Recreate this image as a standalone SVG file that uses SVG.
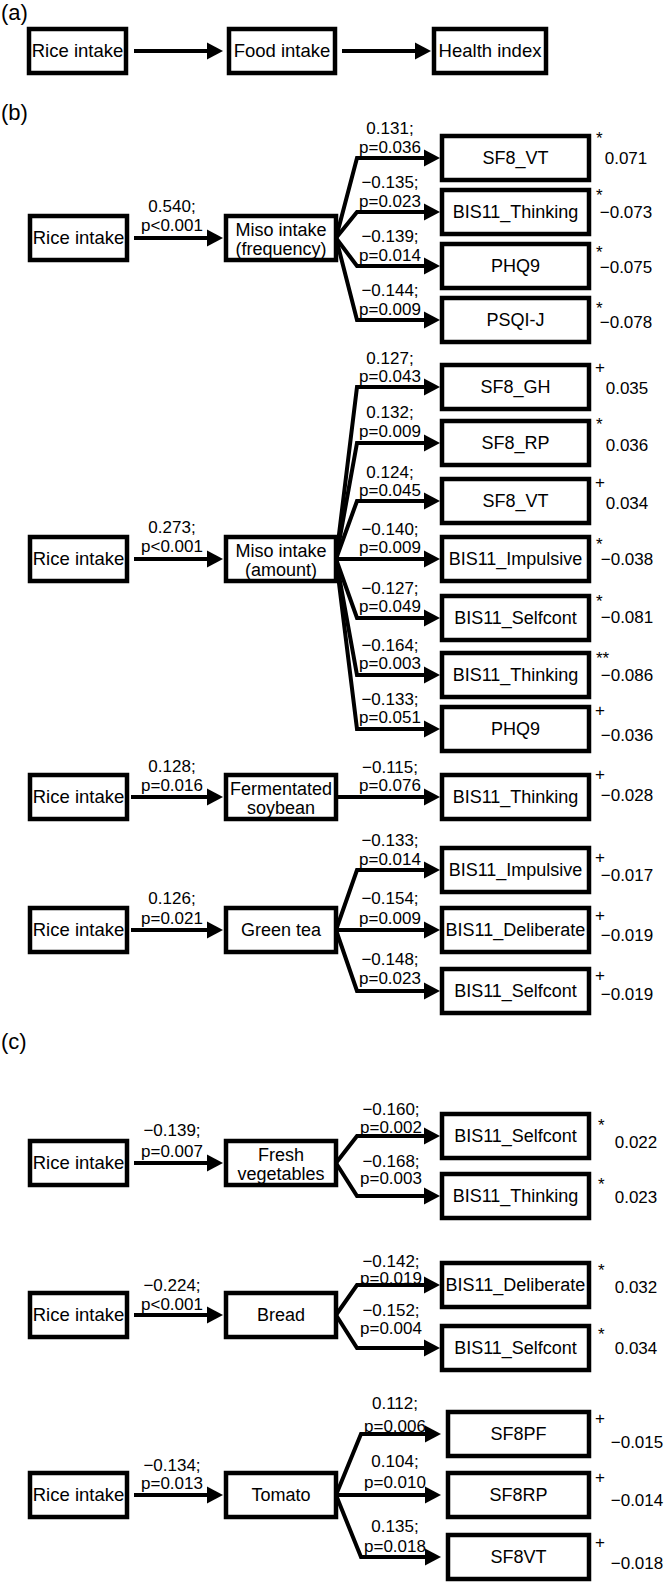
<svg xmlns="http://www.w3.org/2000/svg" width="666" height="1586" viewBox="0 0 666 1586">
<defs>
<style>
.box{fill:#fff;stroke:#000;stroke-width:4.5}
.ln{fill:none;stroke:#000;stroke-width:4;marker-end:url(#ah)}
.t{font-family:"Liberation Sans",Arial,sans-serif;font-size:18px;text-anchor:middle;fill:#000}
.r{font-family:"Liberation Sans",Arial,sans-serif;font-size:18.5px;text-anchor:middle;fill:#000}
.l{font-family:"Liberation Sans",Arial,sans-serif;font-size:17px;text-anchor:middle;fill:#000}
.s{font-family:"Liberation Sans",Arial,sans-serif;font-size:17px;text-anchor:start;fill:#000}
.h{font-family:"Liberation Sans",Arial,sans-serif;font-size:22px;text-anchor:start;fill:#000}
</style>
<marker id="ah" markerUnits="userSpaceOnUse" markerWidth="17" markerHeight="18" refX="2" refY="9" orient="auto"><path d="M0,0.5 L16,9 L0,17.5 Z" fill="#000"/></marker>
</defs>
<rect width="666" height="1586" fill="#fff"/>

<text class="h" x="1" y="20">(a)</text>
<text class="h" x="1" y="120">(b)</text>
<text class="h" x="1" y="1049">(c)</text>

<g id="connectors">
<polyline class="ln" points="134,51 209,51"/>
<polyline class="ln" points="342,51 417,51"/>
<polyline class="ln" points="134,238 209,238"/>
<polyline class="ln" points="336,238 357,158 426,158"/>
<polyline class="ln" points="336,238 357,212 426,212"/>
<polyline class="ln" points="336,238 357,266 426,266"/>
<polyline class="ln" points="336,238 357,320 426,320"/>
<polyline class="ln" points="134,559 209,559"/>
<polyline class="ln" points="336,559 357,387 426,387"/>
<polyline class="ln" points="336,559 357,443 426,443"/>
<polyline class="ln" points="336,559 357,501 426,501"/>
<polyline class="ln" points="336,559 426,559"/>
<polyline class="ln" points="336,559 357,618 426,618"/>
<polyline class="ln" points="336,559 357,675 426,675"/>
<polyline class="ln" points="336,559 357,729 426,729"/>
<polyline class="ln" points="131,797 209,797"/>
<polyline class="ln" points="336,797 426,797"/>
<polyline class="ln" points="131,930 209,930"/>
<polyline class="ln" points="336,930 357,870 426,870"/>
<polyline class="ln" points="336,930 426,930"/>
<polyline class="ln" points="336,930 357,991 426,991"/>
<polyline class="ln" points="134,1163 209,1163"/>
<polyline class="ln" points="336,1163 357,1136 426,1136"/>
<polyline class="ln" points="336,1163 357,1196 426,1196"/>
<polyline class="ln" points="134,1315 209,1315"/>
<polyline class="ln" points="336,1315 357,1285 426,1285"/>
<polyline class="ln" points="336,1315 357,1348 426,1348"/>
<polyline class="ln" points="134,1495 209,1495"/>
<polyline class="ln" points="336,1495 361,1434 427,1434"/>
<polyline class="ln" points="336,1495 427,1495"/>
<polyline class="ln" points="336,1495 361,1557 427,1557"/>
</g>

<g id="edge-labels">
<text class="l" x="172" y="212">0.540;</text><text class="l" x="172" y="231">p&lt;0.001</text>
<text class="l" x="390" y="134">0.131;</text><text class="l" x="390" y="153">p=0.036</text>
<text class="l" x="390" y="188">−0.135;</text><text class="l" x="390" y="207">p=0.023</text>
<text class="l" x="390" y="242">−0.139;</text><text class="l" x="390" y="261">p=0.014</text>
<text class="l" x="390" y="296">−0.144;</text><text class="l" x="390" y="315">p=0.009</text>

<text class="l" x="172" y="533">0.273;</text><text class="l" x="172" y="552">p&lt;0.001</text>
<text class="l" x="390" y="364">0.127;</text><text class="l" x="390" y="382">p=0.043</text>
<text class="l" x="390" y="418">0.132;</text><text class="l" x="390" y="437">p=0.009</text>
<text class="l" x="390" y="478">0.124;</text><text class="l" x="390" y="496">p=0.045</text>
<text class="l" x="390" y="535">−0.140;</text><text class="l" x="390" y="553">p=0.009</text>
<text class="l" x="390" y="594">−0.127;</text><text class="l" x="390" y="612">p=0.049</text>
<text class="l" x="390" y="651">−0.164;</text><text class="l" x="390" y="669">p=0.003</text>
<text class="l" x="390" y="705">−0.133;</text><text class="l" x="390" y="723">p=0.051</text>

<text class="l" x="172" y="772">0.128;</text><text class="l" x="172" y="791">p=0.016</text>
<text class="l" x="390" y="773">−0.115;</text><text class="l" x="390" y="791">p=0.076</text>

<text class="l" x="172" y="904">0.126;</text><text class="l" x="172" y="924">p=0.021</text>
<text class="l" x="390" y="846">−0.133;</text><text class="l" x="390" y="865">p=0.014</text>
<text class="l" x="390" y="904">−0.154;</text><text class="l" x="390" y="924">p=0.009</text>
<text class="l" x="390" y="965">−0.148;</text><text class="l" x="390" y="984">p=0.023</text>

<text class="l" x="172" y="1136">−0.139;</text><text class="l" x="172" y="1157">p=0.007</text>
<text class="l" x="391" y="1115">−0.160;</text><text class="l" x="391" y="1133">p=0.002</text>
<text class="l" x="391" y="1167">−0.168;</text><text class="l" x="391" y="1184">p=0.003</text>

<text class="l" x="172" y="1291">−0.224;</text><text class="l" x="172" y="1310">p&lt;0.001</text>
<text class="l" x="391" y="1267">−0.142;</text><text class="l" x="391" y="1284">p=0.019</text>
<text class="l" x="391" y="1316">−0.152;</text><text class="l" x="391" y="1334">p=0.004</text>

<text class="l" x="172" y="1471">−0.134;</text><text class="l" x="172" y="1489">p=0.013</text>
<text class="l" x="395" y="1409">0.112;</text><text class="l" x="395" y="1432">p=0.006</text>
<text class="l" x="395" y="1467">0.104;</text><text class="l" x="395" y="1488">p=0.010</text>
<text class="l" x="395" y="1532">0.135;</text><text class="l" x="395" y="1552">p=0.018</text>
</g>

<g id="a-rice"><rect class="box" x="29" y="29" width="97" height="44"/><text class="r" x="77.5" y="57">Rice intake</text></g>
<g id="a-food"><rect class="box" x="229" y="29" width="106" height="44"/><text class="r" x="282" y="57">Food intake</text></g>
<g id="a-health"><rect class="box" x="434" y="29" width="112" height="44"/><text class="r" x="490" y="57">Health index</text></g>

<g id="b1-rice"><rect class="box" x="30" y="216" width="97" height="44"/><text class="r" x="78.5" y="244">Rice intake</text></g>
<g id="b1-miso"><rect class="box" x="226" y="216" width="110" height="44"/><text class="t" x="281" y="236">Miso intake</text><text class="t" x="281" y="255">(frequency)</text></g>
<g id="b1-sf8vt"><rect class="box" x="442" y="136" width="147" height="44"/><text class="t" x="515.5" y="164">SF8_VT</text><text class="s" x="596" y="144">*</text><text class="l" x="626" y="164">0.071</text></g>
<g id="b1-think"><rect class="box" x="442" y="190" width="147" height="44"/><text class="t" x="515.5" y="218">BIS11_Thinking</text><text class="s" x="596" y="201">*</text><text class="l" x="626" y="218">−0.073</text></g>
<g id="b1-phq9"><rect class="box" x="442" y="244" width="147" height="44"/><text class="t" x="515.5" y="272">PHQ9</text><text class="s" x="596" y="258">*</text><text class="l" x="626" y="273">−0.075</text></g>
<g id="b1-psqi"><rect class="box" x="442" y="298" width="147" height="44"/><text class="t" x="515.5" y="326">PSQI-J</text><text class="s" x="596" y="314">*</text><text class="l" x="626" y="328">−0.078</text></g>

<g id="b2-rice"><rect class="box" x="30" y="537" width="97" height="44"/><text class="r" x="78.5" y="565">Rice intake</text></g>
<g id="b2-miso"><rect class="box" x="226" y="537" width="110" height="44"/><text class="t" x="281" y="557">Miso intake</text><text class="t" x="281" y="576">(amount)</text></g>
<g id="b2-sf8gh"><rect class="box" x="442" y="365" width="147" height="44"/><text class="t" x="515.5" y="393">SF8_GH</text><text class="s" x="595" y="373">+</text><text class="l" x="627" y="394">0.035</text></g>
<g id="b2-sf8rp"><rect class="box" x="442" y="421" width="147" height="44"/><text class="t" x="515.5" y="449">SF8_RP</text><text class="s" x="596" y="430">*</text><text class="l" x="627" y="451">0.036</text></g>
<g id="b2-sf8vt"><rect class="box" x="442" y="479" width="147" height="44"/><text class="t" x="515.5" y="507">SF8_VT</text><text class="s" x="595" y="488">+</text><text class="l" x="627" y="509">0.034</text></g>
<g id="b2-impulsive"><rect class="box" x="442" y="537" width="147" height="44"/><text class="t" x="515.5" y="565">BIS11_Impulsive</text><text class="s" x="596" y="550">*</text><text class="l" x="627" y="565">−0.038</text></g>
<g id="b2-selfcont"><rect class="box" x="442" y="596" width="147" height="44"/><text class="t" x="515.5" y="624">BIS11_Selfcont</text><text class="s" x="596" y="607">*</text><text class="l" x="627" y="623">−0.081</text></g>
<g id="b2-think"><rect class="box" x="442" y="653" width="147" height="44"/><text class="t" x="515.5" y="681">BIS11_Thinking</text><text class="s" x="596" y="664">**</text><text class="l" x="627" y="681">−0.086</text></g>
<g id="b2-phq9"><rect class="box" x="442" y="707" width="147" height="44"/><text class="t" x="515.5" y="735">PHQ9</text><text class="s" x="595" y="716">+</text><text class="l" x="627" y="741">−0.036</text></g>

<g id="b3-rice"><rect class="box" x="30" y="775" width="97" height="44"/><text class="r" x="78.5" y="803">Rice intake</text></g>
<g id="b3-ferm"><rect class="box" x="226" y="775" width="110" height="44"/><text class="t" x="281" y="795">Fermentated</text><text class="t" x="281" y="814">soybean</text></g>
<g id="b3-think"><rect class="box" x="442" y="775" width="147" height="44"/><text class="t" x="515.5" y="803">BIS11_Thinking</text><text class="s" x="595" y="780">+</text><text class="l" x="627" y="801">−0.028</text></g>

<g id="b4-rice"><rect class="box" x="30" y="908" width="97" height="44"/><text class="r" x="78.5" y="936">Rice intake</text></g>
<g id="b4-green"><rect class="box" x="226" y="908" width="110" height="44"/><text class="t" x="281" y="936">Green tea</text></g>
<g id="b4-impulsive"><rect class="box" x="442" y="848" width="147" height="44"/><text class="t" x="515.5" y="876">BIS11_Impulsive</text><text class="s" x="595" y="863">+</text><text class="l" x="627" y="881">−0.017</text></g>
<g id="b4-deliberate"><rect class="box" x="442" y="908" width="147" height="44"/><text class="t" x="515.5" y="936">BIS11_Deliberate</text><text class="s" x="595" y="921">+</text><text class="l" x="627" y="941">−0.019</text></g>
<g id="b4-selfcont"><rect class="box" x="442" y="969" width="147" height="44"/><text class="t" x="515.5" y="997">BIS11_Selfcont</text><text class="s" x="595" y="981">+</text><text class="l" x="627" y="1000">−0.019</text></g>

<g id="c1-rice"><rect class="box" x="30" y="1141" width="97" height="44"/><text class="r" x="78.5" y="1169">Rice intake</text></g>
<g id="c1-fresh"><rect class="box" x="226" y="1141" width="110" height="44"/><text class="t" x="281" y="1161">Fresh</text><text class="t" x="281" y="1180">vegetables</text></g>
<g id="c1-selfcont"><rect class="box" x="442" y="1114" width="147" height="44"/><text class="t" x="515.5" y="1142">BIS11_Selfcont</text><text class="s" x="598" y="1131">*</text><text class="l" x="636" y="1148">0.022</text></g>
<g id="c1-think"><rect class="box" x="442" y="1174" width="147" height="44"/><text class="t" x="515.5" y="1202">BIS11_Thinking</text><text class="s" x="598" y="1190">*</text><text class="l" x="636" y="1203">0.023</text></g>

<g id="c2-rice"><rect class="box" x="30" y="1293" width="97" height="44"/><text class="r" x="78.5" y="1321">Rice intake</text></g>
<g id="c2-bread"><rect class="box" x="226" y="1293" width="110" height="44"/><text class="t" x="281" y="1321">Bread</text></g>
<g id="c2-deliberate"><rect class="box" x="442" y="1263" width="147" height="44"/><text class="t" x="515.5" y="1291">BIS11_Deliberate</text><text class="s" x="598" y="1276">*</text><text class="l" x="636" y="1293">0.032</text></g>
<g id="c2-selfcont"><rect class="box" x="442" y="1326" width="147" height="44"/><text class="t" x="515.5" y="1354">BIS11_Selfcont</text><text class="s" x="598" y="1340">*</text><text class="l" x="636" y="1354">0.034</text></g>

<g id="c3-rice"><rect class="box" x="30" y="1473" width="97" height="44"/><text class="r" x="78.5" y="1501">Rice intake</text></g>
<g id="c3-tomato"><rect class="box" x="226" y="1473" width="110" height="44"/><text class="t" x="281" y="1501">Tomato</text></g>
<g id="c3-sf8pf"><rect class="box" x="448" y="1412" width="141" height="44"/><text class="t" x="518.5" y="1440">SF8PF</text><text class="s" x="595" y="1424">+</text><text class="l" x="637" y="1448">−0.015</text></g>
<g id="c3-sf8rp"><rect class="box" x="448" y="1473" width="141" height="44"/><text class="t" x="518.5" y="1501">SF8RP</text><text class="s" x="595" y="1483">+</text><text class="l" x="637" y="1506">−0.014</text></g>
<g id="c3-sf8vt"><rect class="box" x="448" y="1535" width="141" height="44"/><text class="t" x="518.5" y="1563">SF8VT</text><text class="s" x="595" y="1548">+</text><text class="l" x="637" y="1569">−0.018</text></g>
</svg>
